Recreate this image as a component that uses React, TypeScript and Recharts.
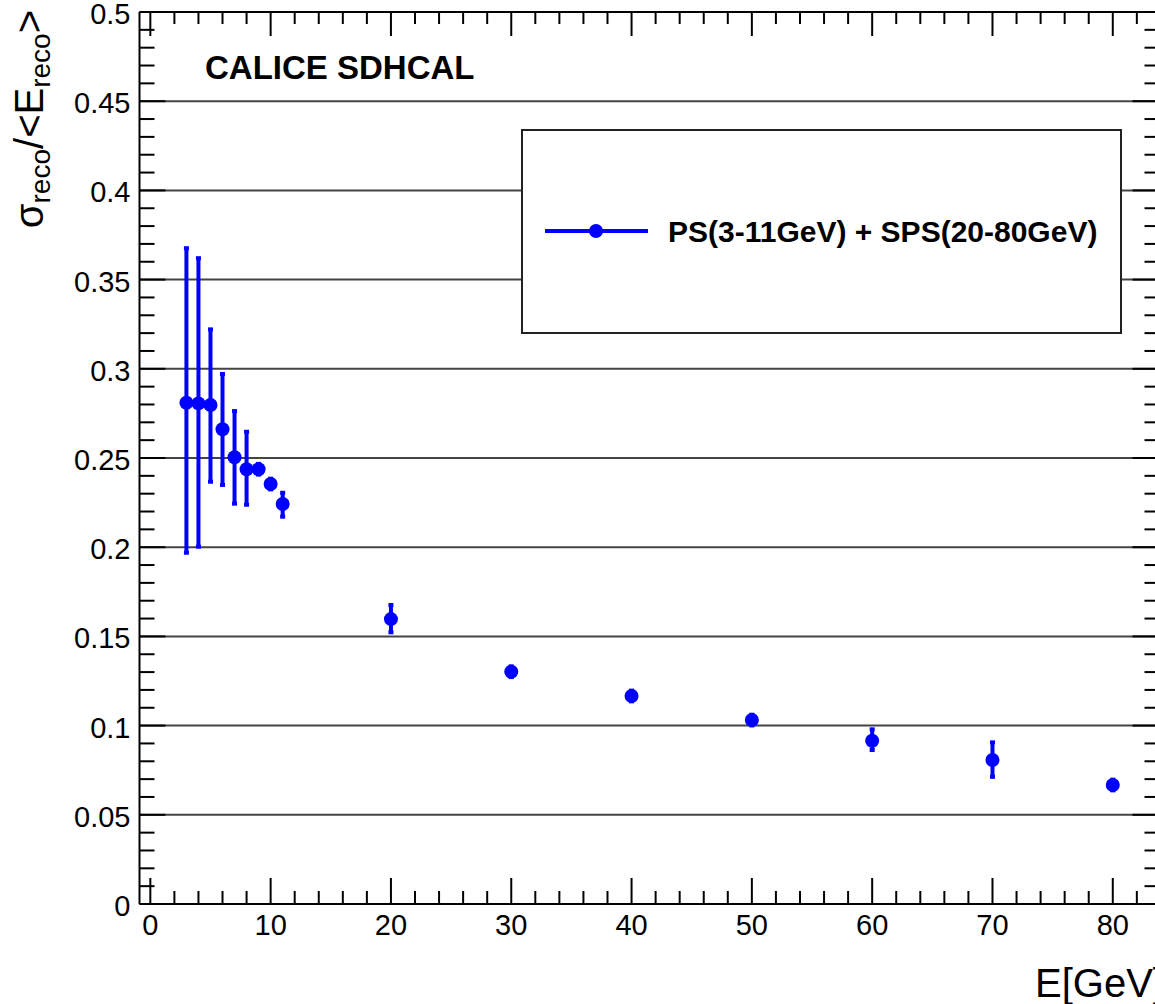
import React from 'react';
import { ComposedChart, Scatter, ErrorBar, XAxis, YAxis, ReferenceLine } from 'recharts';

const energies = [3, 4, 5, 6, 7, 8, 9, 10, 11, 20, 30, 40, 50, 60, 70, 80];
const resolution = [0.281, 0.2806, 0.2797, 0.2661, 0.2504, 0.2437, 0.2437, 0.2354, 0.2242, 0.1597, 0.1302, 0.1166, 0.1031, 0.0915, 0.0807, 0.0667];
const errHigh = [0.0866, 0.0814, 0.0424, 0.031, 0.0259, 0.021, 0.003, 0.003, 0.0063, 0.0079, 0.003, 0.003, 0.003, 0.0064, 0.0099, 0.003];
const errLow = [0.0841, 0.0803, 0.043, 0.0312, 0.026, 0.0199, 0.003, 0.003, 0.0071, 0.0074, 0.003, 0.003, 0.003, 0.0052, 0.0094, 0.003];

const xTicks = [0, 2, 4, 6, 8, 10, 12, 14, 16, 18, 20, 22, 24, 26, 28, 30, 32, 34, 36, 38, 40, 42, 44, 46, 48, 50, 52, 54, 56, 58, 60, 62, 64, 66, 68, 70, 72, 74, 76, 78, 80, 82];
const yTicks = Array.from({ length: 51 }, (_, i) => i / 100);
const gridLines = [0.05, 0.1, 0.15, 0.2, 0.25, 0.3, 0.35, 0.4, 0.45];

const seriesName = 'PS(3-11GeV) + SPS(20-80GeV)';
const experimentLabel = 'CALICE SDHCAL';

const data = energies.map((e, i) => ({ e, r: resolution[i], err: [errLow[i], errHigh[i]] }));

const BLUE = '#0000ff';
const FONT = '"Liberation Sans", Arial, Helvetica, sans-serif';

const isMajorX = (v: number) => v % 10 === 0;
const isMajorY = (v: number) => Math.round(v * 100) % 5 === 0;

const BottomTick = (props: any) => {
  const { x, y, payload } = props;
  const v = payload.value;
  const major = isMajorX(v);
  const len = major ? 26 : 13;
  return (
    <g>
      <line x1={x} x2={x} y1={y} y2={y - len} stroke="#000" strokeWidth={2} />
      {major && (
        <text x={x} y={y + 31} textAnchor="middle" fontSize={29} fontFamily={FONT} fill="#000">
          {v}
        </text>
      )}
    </g>
  );
};

const TopTick = (props: any) => {
  const { x, y, payload } = props;
  const v = payload.value;
  const len = isMajorX(v) ? 24 : 12;
  return <line x1={x} x2={x} y1={y} y2={y + len} stroke="#000" strokeWidth={2} />;
};

const LeftTick = (props: any) => {
  const { x, y, payload } = props;
  const v = payload.value;
  const major = isMajorY(v);
  const len = major ? 26 : 15;
  return (
    <g>
      <line x1={x} x2={x + len} y1={y} y2={y} stroke="#000" strokeWidth={2} />
      {major && (
        <text x={x - 9} y={y + 12} textAnchor="end" fontSize={29} fontFamily={FONT} fill="#000">
          {String(v)}
        </text>
      )}
    </g>
  );
};

const RightTick = (props: any) => {
  const { x, y, payload } = props;
  const len = isMajorY(payload.value) ? 26 : 14;
  return <line x1={x} x2={x - len} y1={y} y2={y} stroke="#000" strokeWidth={2} />;
};

const Dot = (props: any) => <circle cx={props.cx} cy={props.cy} r={7} fill={BLUE} />;

export default function App() {
  return (
    <div style={{ position: 'absolute', left: 0, top: 0, width: 1155, height: 1004, overflow: 'hidden', background: '#fff' }}>
      <ComposedChart width={1175} height={1004} data={data} margin={{ top: 2, right: 6.5, bottom: 0, left: 0 }}>
        <XAxis
          dataKey="e"
          type="number"
          domain={[-0.9, 83.8]}
          ticks={xTicks}
          interval={0}
          height={100}
          tickSize={0}
          tickMargin={0}
          axisLine={{ stroke: '#000', strokeWidth: 2 }}
          tick={<BottomTick />}
          allowDataOverflow
        />
        <XAxis
          xAxisId="top"
          orientation="top"
          dataKey="e"
          type="number"
          domain={[-0.9, 83.8]}
          ticks={xTicks}
          interval={0}
          height={10}
          tickSize={0}
          tickMargin={0}
          axisLine={{ stroke: '#000', strokeWidth: 2 }}
          tick={<TopTick />}
          allowDataOverflow
        />
        <YAxis
          type="number"
          domain={[0, 0.5]}
          ticks={yTicks}
          interval={0}
          width={139.5}
          tickSize={0}
          tickMargin={0}
          axisLine={{ stroke: '#000', strokeWidth: 2 }}
          tick={<LeftTick />}
          allowDataOverflow
        />
        <YAxis
          yAxisId="right"
          orientation="right"
          type="number"
          domain={[0, 0.5]}
          ticks={yTicks}
          interval={0}
          width={10}
          tickSize={0}
          tickMargin={0}
          axisLine={{ stroke: '#000', strokeWidth: 2 }}
          tick={<RightTick />}
          allowDataOverflow
        />
        {gridLines.map((g) => (
          <ReferenceLine key={g} y={g} stroke="#444" strokeWidth={2} />
        ))}
        <Scatter dataKey="r" fill={BLUE} shape={<Dot />} isAnimationActive={false}>
          <ErrorBar dataKey="err" direction="y" width={2.5} stroke={BLUE} strokeWidth={4} isAnimationActive={false} />
        </Scatter>
      </ComposedChart>
      <svg width={1155} height={1004} style={{ position: 'absolute', left: 0, top: 0, pointerEvents: 'none' }}>
        <text x={205} y={79} fontSize={33} fontWeight="bold" fontFamily={FONT} fill="#000">
          {experimentLabel}
        </text>
        <rect x={522} y={130} width={599} height={203} fill="#fff" stroke="#222" strokeWidth={2} />
        <line x1={545} x2={648} y1={231} y2={231} stroke={BLUE} strokeWidth={4} />
        <circle cx={596} cy={231} r={7} fill={BLUE} />
        <text x={668} y={242} fontSize={30} fontWeight="bold" fontFamily={FONT} fill="#000">
          {seriesName}
        </text>
        <text transform="translate(43,10) rotate(-90)" textAnchor="end" fontFamily={FONT} fill="#000" fontSize={40}>
          <tspan>σ</tspan>
          <tspan fontSize={28} dy={7}>reco</tspan>
          <tspan dy={-7}>/&lt;E</tspan>
          <tspan fontSize={28} dy={7}>reco</tspan>
          <tspan dy={-7}>&gt;</tspan>
        </text>
        <text x={1035} y={997} fontSize={40} fontFamily={FONT} fill="#000">
          E[GeV]
        </text>
      </svg>
    </div>
  );
}
